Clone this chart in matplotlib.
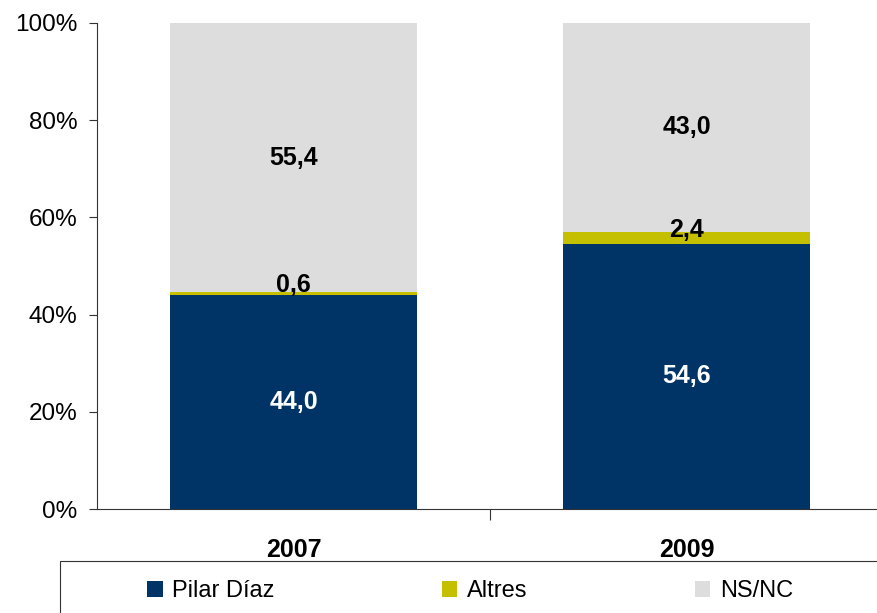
import matplotlib
import matplotlib.pyplot as plt
from matplotlib.patches import Rectangle
import numpy as np

matplotlib.use("Agg")

# survey results by year (percent)
years = ["2007", "2009"]
pilar_diaz = [44.0, 54.6]
altres = [0.6, 2.4]
ns_nc = [55.4, 43.0]
series_names = ["Pilar Díaz", "Altres", "NS/NC"]
y_ticks = [0, 20, 40, 60, 80, 100]

colors = ["#003366", "#C4C000", "#DDDDDD"]
label_colors = ["white", "black", "black"]

plt.rcParams["font.family"] = ["Liberation Sans", "DejaVu Sans"]

fig = plt.figure(figsize=(8.77, 6.13), dpi=100)
ax = fig.add_axes([97 / 877, 104 / 613, 1 - 97 / 877, 486 / 613])

x = np.arange(len(years))
width = 0.626
bottom = np.zeros(len(years))
bars = []
for i, vals in enumerate([pilar_diaz, altres, ns_nc]):
    vals = np.array(vals)
    b = ax.bar(x, vals, width, bottom=bottom, color=colors[i], label=series_names[i])
    bars.append(b)
    for xi, v, b0 in zip(x, vals, bottom):
        # small segments get their label nudged above the band
        yy = b0 + v / 2 + (1.7 if v < 5 else 0)
        ax.text(xi, yy, f"{v:.1f}".replace(".", ","), ha="center", va="center",
                fontsize=18, fontweight="bold", color=label_colors[i])
    bottom += vals

ax.set_ylim(0, 100)
ax.set_xlim(-0.5, -0.5 + (877 - 97) / 393)
ax.set_yticks(y_ticks)
ax.set_yticklabels([f"{t}%" for t in y_ticks], fontsize=17.5)
ax.tick_params(axis="y", direction="out", length=6, width=0.8, color="#333333", pad=8)

ax.set_xticks(x)
ax.set_xticklabels(years, fontsize=18, fontweight="bold")
ax.tick_params(axis="x", length=0, pad=21)
ax.set_xticks([0.5], minor=True)
ax.tick_params(axis="x", which="minor", direction="out", length=8, width=0.8, color="#333333")

for side in ["top", "right"]:
    ax.spines[side].set_visible(False)
for side in ["left", "bottom"]:
    ax.spines[side].set_color("#333333")
    ax.spines[side].set_linewidth(0.8)

# legend box running off the bottom right
fig.patches.append(Rectangle((60 / 877, -0.01), 1.0, (613 - 561) / 613 + 0.01,
                             transform=fig.transFigure, fill=False,
                             edgecolor="#333333", linewidth=0.8))
fig.legend(handles=bars, labels=series_names, loc="center left",
           bbox_to_anchor=(126 / 877, 22 / 613), ncol=3, frameon=False,
           fontsize=17, handlelength=0.65, handleheight=0.65, handletextpad=0.4,
           columnspacing=7.1)

plt.savefig("out.png", dpi=100)
